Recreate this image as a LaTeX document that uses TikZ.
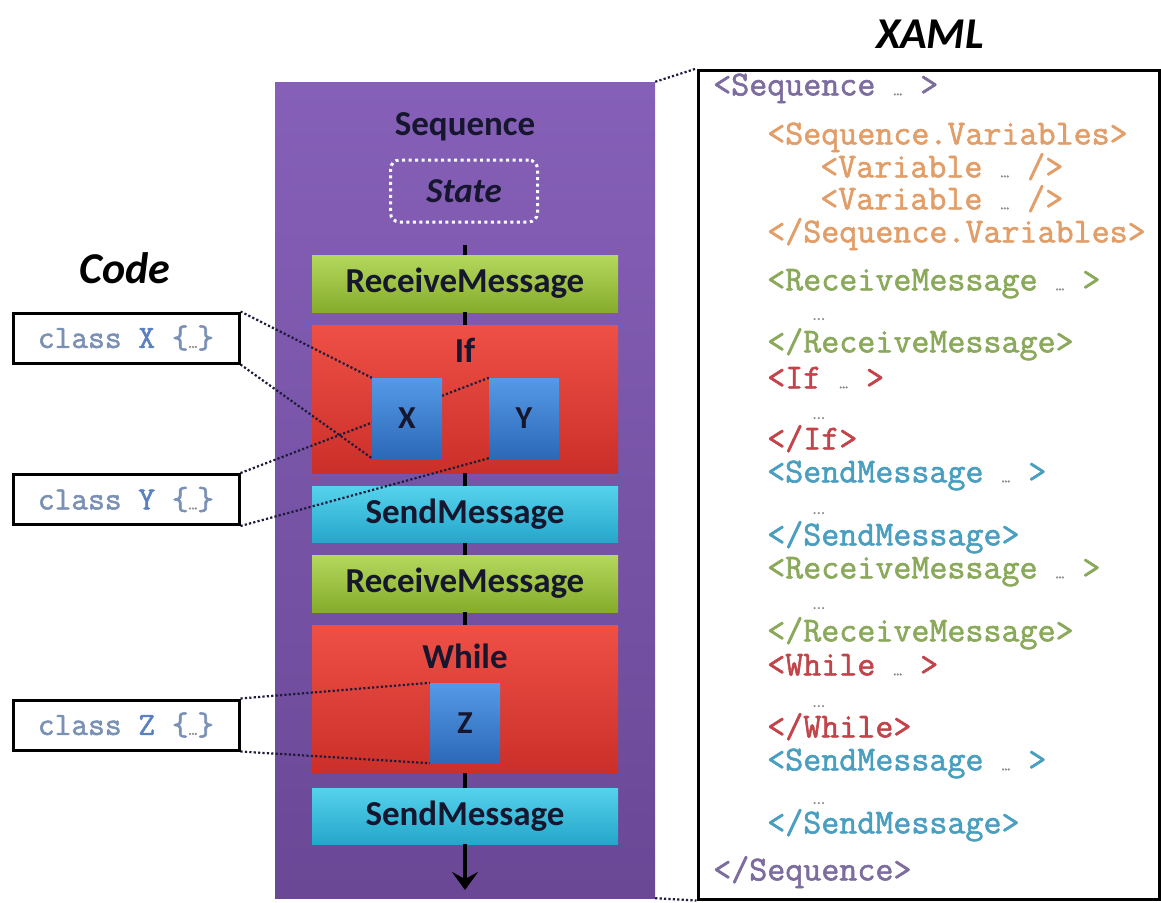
\documentclass[tikz,border=0pt]{standalone}
\usepackage{fontspec}
\setmainfont{Carlito}
\setmonofont[AutoFakeBold=1.6]{Latin Modern Mono}
\usetikzlibrary{arrows.meta,calc}
\definecolor{seqA}{HTML}{8660B8}
\definecolor{seqB}{HTML}{6A4896}
\definecolor{grnA}{HTML}{B4D85C}
\definecolor{grnB}{HTML}{86AC2C}
\definecolor{redA}{HTML}{EE5046}
\definecolor{redB}{HTML}{CB2F29}
\definecolor{cyA}{HTML}{55D2EC}
\definecolor{cyB}{HTML}{25A6CA}
\definecolor{blA}{HTML}{559AE6}
\definecolor{blB}{HTML}{2C69B8}
\definecolor{ink}{HTML}{16162E}
\definecolor{dotc}{HTML}{1E1A3A}
\definecolor{xpur}{HTML}{7C6C9F}
\definecolor{xora}{HTML}{E29E68}
\definecolor{xgrn}{HTML}{8AA95A}
\definecolor{xred}{HTML}{C2444A}
\definecolor{xcya}{HTML}{4A9EC0}
\definecolor{xgry}{HTML}{8A8A8A}
\definecolor{clsg}{HTML}{7A90B4}
\definecolor{clsb}{HTML}{5A80C2}
\newcommand\xdots{{\fontsize{17}{17}\selectfont\color{xgry}…}}
\pgfdeclarelayer{back}
\pgfdeclarelayer{mid}
\pgfsetlayers{back,mid,main}
\begin{document}
\begin{tikzpicture}[x=1pt,y=-1pt,
  lbl/.style={font=\bfseries\fontsize{35}{35}\selectfont, text=ink, inner sep=0pt},
  ttl/.style={font=\bfseries\itshape\fontsize{44}{44}\selectfont, text=black, inner sep=0pt},
  act/.style={minimum width=306pt, minimum height=#1, inner sep=0pt, font=\bfseries\fontsize{35}{35}\selectfont, text=ink},
  grn/.style={act=57pt, top color=grnA, bottom color=grnB},
  cyn/.style={act=56pt, top color=cyA, bottom color=cyB},
  rdb/.style={act=148pt, top color=redA, bottom color=redB},
  blu/.style={minimum width=70pt, minimum height=80pt, inner sep=0pt, top color=blA, bottom color=blB, font=\bfseries\fontsize{32}{32}\selectfont, text=ink},
  cls/.style={draw=black, line width=3pt, fill=white, minimum width=226pt, minimum height=50pt, inner sep=0pt, font=\ttfamily\bfseries\fontsize{32.5}{32.5}\selectfont},
  dots/.style={draw=dotc, line width=2.2pt, dash pattern=on 2.2pt off 2.2pt},
  spine/.style={draw=black, line width=4pt},
  xm/.style={anchor=mid west, inner sep=0pt, text height=21pt, text depth=6pt, font=\ttfamily\bfseries\fontsize{35}{35}\selectfont},
  xe/.style={anchor=base west, inner sep=0pt, text height=3pt, text depth=0pt}
]
\useasboundingbox (0,0) rectangle (1161,902);

\begin{pgfonlayer}{back}
\node[minimum width=380pt, minimum height=816pt, inner sep=0pt, top color=seqA, bottom color=seqB] (seq) at (465,490) {};
\node[draw=white, line width=3pt, dash pattern=on 3pt off 3.5pt, rounded corners=9pt, minimum width=147pt, minimum height=62pt, inner sep=0pt] (state) at (464,191) {};
\node[grn] (rm1) at (465,283.5) {ReceiveMessage};
\node[rdb] (if) at (465,399) {};
\node[cyn] (sm1) at (465,514.5) {SendMessage};
\node[grn] (rm2) at (465,583.5) {ReceiveMessage};
\node[rdb] (while) at (465,699) {};
\node[cyn] (sm2) at (465,816) {SendMessage};
\end{pgfonlayer}

\node[lbl] (seqt) at (465,127) {Sequence};
\node[lbl, font=\bfseries\itshape\fontsize{35}{35}\selectfont] (statet) at (464,191) {State};
\node[lbl] (ift) at (465,350) {If};
\node[lbl] (whilet) at (465,656) {While};

\coordinate (sp0) at (465,245);
\coordinate (sp1) at (465,890);
\draw[spine] (sp0) -- (rm1.north);
\draw[spine] (rm1.south) -- (if.north);
\draw[spine] (if.south) -- (sm1.north);
\draw[spine] (sm1.south) -- (rm2.north);
\draw[spine] (rm2.south) -- (while.north);
\draw[spine] (while.south) -- (sm2.north);
\draw[spine, -{Stealth[length=18pt,width=26pt,inset=7pt]}] (sm2.south) -- (sp1);

\node[ttl] (codet) at (125,268) {Code};
\node[ttl] (xamlt) at (930,34) {XAML};

\node[cls] (cx) at (126,338) {{\color{clsg}class} {\color{clsb}X} {\color{clsg}\{\xdots\}}};
\node[cls] (cy) at (126,499.5) {{\color{clsg}class} {\color{clsb}Y} {\color{clsg}\{\xdots\}}};
\node[cls] (cz) at (126,725) {{\color{clsg}class} {\color{clsb}Z} {\color{clsg}\{\xdots\}}};

\node[blu] (bx) at (407,418) {X};
\node[blu] (by) at (524,418) {Y};
\node[blu] (bz) at (465,723) {Z};

\begin{pgfonlayer}{mid}
\draw[dots] (cx.north east) -- (bx.north west);
\draw[dots] (cx.south east) -- (bx.south west);
\draw[dots] (cy.north east) -- (by.north west);
\draw[dots] (cy.south east) -- (by.south west);
\draw[dots] (cz.north east) -- (bz.north west);
\draw[dots] (cz.south east) -- (bz.south west);
\end{pgfonlayer}

\node[draw=black, line width=3pt, fill=white, minimum width=461pt, minimum height=829pt, inner sep=0pt] (xaml) at (928.5,484.5) {};
\draw[dots] (seq.north east) -- (xaml.north west);
\draw[dots] (seq.south east) -- (xaml.south west);

\node[xm, text=xpur] (l1) at (713,93) {<Sequence \xdots{} >};
\node[xm, text=xora] (l2) at (767,142) {<Sequence.Variables>};
\node[xm, text=xora] (l3) at (820,175) {<Variable \xdots{} />};
\node[xm, text=xora] (l4) at (820,207) {<Variable \xdots{} />};
\node[xm, text=xora] (l5) at (767,240) {</Sequence.Variables>};
\node[xm, text=xgrn] (l6) at (767,288) {<ReceiveMessage \xdots{} >};
\node[xe] (l7) at (813,320) {\xdots};
\node[xm, text=xgrn] (l8) at (767,350) {</ReceiveMessage>};
\node[xm, text=xred] (l9) at (767,386) {<If \xdots{} >};
\node[xe] (l10) at (813,419) {\xdots};
\node[xm, text=xred] (l11) at (767,447) {</If>};
\node[xm, text=xcya] (l12) at (767,480) {<SendMessage \xdots{} >};
\node[xe] (l13) at (813,514) {\xdots};
\node[xm, text=xcya] (l14) at (767,543) {</SendMessage>};
\node[xm, text=xgrn] (l15) at (767,576) {<ReceiveMessage \xdots{} >};
\node[xe] (l16) at (813,609) {\xdots};
\node[xm, text=xgrn] (l17) at (767,639) {</ReceiveMessage>};
\node[xm, text=xred] (l18) at (767,673) {<While \xdots{} >};
\node[xe] (l19) at (813,707) {\xdots};
\node[xm, text=xred] (l20) at (767,735) {</While>};
\node[xm, text=xcya] (l21) at (767,768) {<SendMessage \xdots{} >};
\node[xe] (l22) at (813,804) {\xdots};
\node[xm, text=xcya] (l23) at (767,831) {</SendMessage>};
\node[xm, text=xpur] (l24) at (713,878) {</Sequence>};
\end{tikzpicture}
\end{document}
